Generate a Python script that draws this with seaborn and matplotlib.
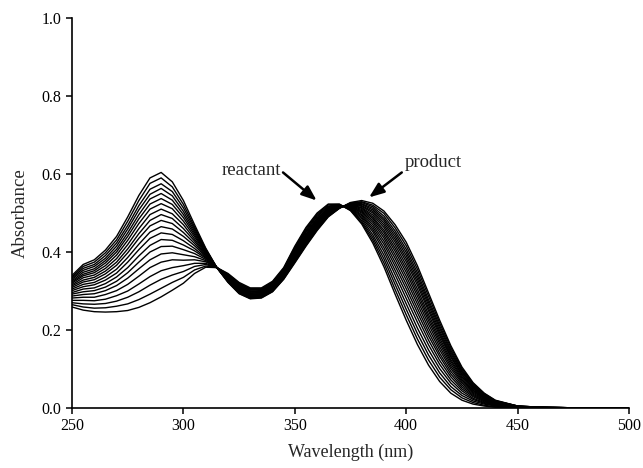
import matplotlib
matplotlib.use("Agg")
import matplotlib.pyplot as plt
import pandas as pd
import seaborn as sns

wavelength = [250, 255, 260, 265, 270, 275, 280, 285, 290, 295, 300, 305, 310, 315,
              320, 325, 330, 335, 340, 345, 350, 355, 360, 365, 370, 375, 380, 385,
              390, 395, 400, 405, 410, 415, 420, 425, 430, 435, 440, 450, 460, 480, 500]

spectrum_01 = [0.259, 0.251, 0.247, 0.246, 0.247, 0.250, 0.258, 0.270, 0.285, 0.302, 0.320, 0.345, 0.361, 0.360,
               0.345, 0.322, 0.308, 0.308, 0.325, 0.360, 0.415, 0.463, 0.500, 0.523, 0.523, 0.506, 0.472, 0.423,
               0.362, 0.292, 0.225, 0.163, 0.110, 0.068, 0.038, 0.020, 0.010, 0.005, 0.002, 0.001, 0.000, 0.000, 0.000]
spectrum_02 = [0.265, 0.259, 0.256, 0.257, 0.261, 0.267, 0.278, 0.292, 0.307, 0.322, 0.335, 0.354, 0.364, 0.360,
               0.343, 0.320, 0.306, 0.306, 0.323, 0.358, 0.412, 0.460, 0.497, 0.521, 0.522, 0.507, 0.476, 0.430,
               0.372, 0.304, 0.239, 0.177, 0.123, 0.079, 0.047, 0.026, 0.014, 0.007, 0.003, 0.001, 0.000, 0.000, 0.000]
spectrum_03 = [0.270, 0.267, 0.266, 0.268, 0.274, 0.284, 0.298, 0.315, 0.330, 0.341, 0.350, 0.363, 0.368, 0.360,
               0.342, 0.318, 0.304, 0.304, 0.321, 0.356, 0.409, 0.456, 0.494, 0.518, 0.521, 0.509, 0.480, 0.437,
               0.382, 0.317, 0.253, 0.191, 0.136, 0.090, 0.055, 0.032, 0.018, 0.010, 0.005, 0.002, 0.000, 0.000, 0.000]
spectrum_04 = [0.276, 0.276, 0.275, 0.279, 0.288, 0.300, 0.318, 0.337, 0.352, 0.360, 0.365, 0.371, 0.371, 0.360,
               0.340, 0.316, 0.302, 0.303, 0.319, 0.354, 0.406, 0.453, 0.491, 0.516, 0.521, 0.510, 0.485, 0.444,
               0.392, 0.329, 0.267, 0.205, 0.149, 0.101, 0.064, 0.038, 0.022, 0.012, 0.006, 0.002, 0.000, 0.000, 0.000]
spectrum_05 = [0.282, 0.284, 0.284, 0.291, 0.301, 0.317, 0.338, 0.360, 0.374, 0.380, 0.379, 0.380, 0.375, 0.360,
               0.339, 0.314, 0.300, 0.301, 0.317, 0.352, 0.403, 0.450, 0.487, 0.514, 0.520, 0.512, 0.489, 0.452,
               0.402, 0.342, 0.281, 0.220, 0.162, 0.112, 0.072, 0.044, 0.025, 0.014, 0.007, 0.002, 0.001, 0.000, 0.000]
spectrum_06 = [0.287, 0.291, 0.293, 0.301, 0.314, 0.333, 0.357, 0.380, 0.395, 0.398, 0.393, 0.388, 0.378, 0.360,
               0.337, 0.312, 0.298, 0.299, 0.316, 0.350, 0.400, 0.446, 0.485, 0.512, 0.519, 0.513, 0.493, 0.458,
               0.411, 0.353, 0.294, 0.233, 0.174, 0.122, 0.080, 0.049, 0.029, 0.016, 0.008, 0.002, 0.001, 0.000, 0.000]
spectrum_07 = [0.292, 0.298, 0.301, 0.310, 0.325, 0.347, 0.374, 0.400, 0.414, 0.415, 0.406, 0.396, 0.381, 0.360,
               0.336, 0.310, 0.297, 0.298, 0.314, 0.348, 0.398, 0.444, 0.482, 0.510, 0.519, 0.515, 0.496, 0.464,
               0.420, 0.364, 0.306, 0.245, 0.185, 0.132, 0.087, 0.054, 0.032, 0.018, 0.009, 0.003, 0.001, 0.000, 0.000]
spectrum_08 = [0.296, 0.305, 0.308, 0.319, 0.336, 0.360, 0.390, 0.417, 0.432, 0.430, 0.418, 0.403, 0.384, 0.360,
               0.334, 0.309, 0.295, 0.296, 0.313, 0.346, 0.395, 0.441, 0.479, 0.508, 0.518, 0.516, 0.500, 0.470,
               0.428, 0.374, 0.317, 0.256, 0.195, 0.140, 0.094, 0.059, 0.035, 0.020, 0.010, 0.003, 0.001, 0.000, 0.000]
spectrum_09 = [0.301, 0.311, 0.316, 0.328, 0.346, 0.374, 0.406, 0.435, 0.449, 0.445, 0.429, 0.409, 0.386, 0.360,
               0.333, 0.307, 0.294, 0.295, 0.311, 0.345, 0.393, 0.438, 0.477, 0.506, 0.517, 0.517, 0.503, 0.476,
               0.436, 0.384, 0.328, 0.267, 0.205, 0.149, 0.101, 0.064, 0.038, 0.022, 0.011, 0.003, 0.001, 0.000, 0.000]
spectrum_10 = [0.305, 0.317, 0.322, 0.336, 0.356, 0.386, 0.420, 0.451, 0.465, 0.459, 0.440, 0.416, 0.389, 0.360,
               0.332, 0.306, 0.292, 0.293, 0.310, 0.343, 0.391, 0.436, 0.475, 0.504, 0.517, 0.518, 0.506, 0.481,
               0.443, 0.393, 0.338, 0.277, 0.215, 0.157, 0.107, 0.068, 0.041, 0.024, 0.012, 0.003, 0.001, 0.000, 0.000]
spectrum_11 = [0.309, 0.323, 0.329, 0.344, 0.366, 0.398, 0.435, 0.467, 0.481, 0.473, 0.450, 0.422, 0.391, 0.360,
               0.331, 0.304, 0.291, 0.292, 0.308, 0.342, 0.389, 0.434, 0.472, 0.503, 0.516, 0.519, 0.509, 0.486,
               0.450, 0.402, 0.348, 0.287, 0.224, 0.165, 0.113, 0.072, 0.044, 0.025, 0.013, 0.004, 0.001, 0.000, 0.000]
spectrum_12 = [0.313, 0.328, 0.335, 0.351, 0.374, 0.408, 0.447, 0.481, 0.496, 0.486, 0.460, 0.428, 0.393, 0.360,
               0.330, 0.303, 0.290, 0.291, 0.307, 0.340, 0.387, 0.431, 0.470, 0.501, 0.516, 0.520, 0.512, 0.490,
               0.456, 0.410, 0.357, 0.296, 0.232, 0.172, 0.119, 0.076, 0.046, 0.027, 0.014, 0.004, 0.001, 0.000, 0.000]
spectrum_13 = [0.316, 0.334, 0.341, 0.358, 0.383, 0.419, 0.460, 0.496, 0.510, 0.498, 0.470, 0.433, 0.396, 0.360,
               0.329, 0.302, 0.288, 0.290, 0.306, 0.339, 0.385, 0.429, 0.468, 0.500, 0.515, 0.521, 0.514, 0.495,
               0.463, 0.418, 0.366, 0.305, 0.240, 0.179, 0.124, 0.080, 0.049, 0.028, 0.015, 0.004, 0.001, 0.000, 0.000]
spectrum_14 = [0.320, 0.339, 0.347, 0.365, 0.392, 0.430, 0.473, 0.510, 0.524, 0.511, 0.479, 0.439, 0.398, 0.360,
               0.328, 0.300, 0.287, 0.289, 0.305, 0.338, 0.383, 0.427, 0.466, 0.498, 0.515, 0.522, 0.517, 0.500,
               0.469, 0.426, 0.375, 0.315, 0.249, 0.186, 0.130, 0.084, 0.051, 0.030, 0.016, 0.004, 0.002, 0.000, 0.000]
spectrum_15 = [0.323, 0.343, 0.352, 0.372, 0.400, 0.440, 0.485, 0.523, 0.537, 0.522, 0.488, 0.444, 0.400, 0.360,
               0.327, 0.299, 0.286, 0.288, 0.304, 0.336, 0.381, 0.425, 0.464, 0.497, 0.514, 0.523, 0.519, 0.504,
               0.475, 0.433, 0.383, 0.323, 0.256, 0.192, 0.134, 0.087, 0.053, 0.031, 0.016, 0.004, 0.002, 0.000, 0.000]
spectrum_16 = [0.326, 0.348, 0.357, 0.378, 0.407, 0.449, 0.496, 0.536, 0.550, 0.533, 0.496, 0.449, 0.402, 0.360,
               0.326, 0.298, 0.285, 0.286, 0.303, 0.335, 0.379, 0.423, 0.463, 0.496, 0.514, 0.523, 0.522, 0.508,
               0.481, 0.440, 0.391, 0.331, 0.264, 0.198, 0.139, 0.091, 0.056, 0.032, 0.017, 0.004, 0.002, 0.000, 0.000]
spectrum_17 = [0.330, 0.353, 0.363, 0.384, 0.415, 0.459, 0.508, 0.548, 0.563, 0.544, 0.504, 0.454, 0.404, 0.360,
               0.325, 0.297, 0.284, 0.285, 0.302, 0.334, 0.378, 0.421, 0.461, 0.494, 0.513, 0.524, 0.524, 0.512,
               0.486, 0.447, 0.399, 0.339, 0.271, 0.205, 0.144, 0.094, 0.058, 0.034, 0.018, 0.005, 0.002, 0.000, 0.000]
spectrum_18 = [0.333, 0.358, 0.368, 0.391, 0.423, 0.468, 0.519, 0.561, 0.575, 0.555, 0.513, 0.459, 0.406, 0.360,
               0.324, 0.296, 0.283, 0.284, 0.300, 0.333, 0.376, 0.419, 0.459, 0.493, 0.513, 0.525, 0.527, 0.516,
               0.492, 0.454, 0.407, 0.347, 0.278, 0.211, 0.149, 0.097, 0.060, 0.035, 0.018, 0.005, 0.002, 0.000, 0.000]
spectrum_19 = [0.336, 0.363, 0.374, 0.398, 0.431, 0.479, 0.532, 0.576, 0.590, 0.567, 0.522, 0.464, 0.408, 0.360,
               0.323, 0.294, 0.281, 0.283, 0.299, 0.331, 0.374, 0.417, 0.457, 0.491, 0.512, 0.526, 0.529, 0.520,
               0.499, 0.462, 0.416, 0.356, 0.287, 0.218, 0.155, 0.101, 0.063, 0.037, 0.019, 0.005, 0.002, 0.000, 0.000]
spectrum_20 = [0.340, 0.368, 0.380, 0.405, 0.440, 0.490, 0.545, 0.590, 0.604, 0.580, 0.532, 0.470, 0.410, 0.360,
               0.322, 0.293, 0.280, 0.282, 0.298, 0.330, 0.372, 0.415, 0.455, 0.490, 0.512, 0.527, 0.532, 0.525,
               0.505, 0.470, 0.425, 0.365, 0.295, 0.225, 0.160, 0.105, 0.065, 0.038, 0.020, 0.005, 0.002, 0.000, 0.000]

spectra = [spectrum_01, spectrum_02, spectrum_03, spectrum_04, spectrum_05,
           spectrum_06, spectrum_07, spectrum_08, spectrum_09, spectrum_10,
           spectrum_11, spectrum_12, spectrum_13, spectrum_14, spectrum_15,
           spectrum_16, spectrum_17, spectrum_18, spectrum_19, spectrum_20]

x_ticks = [250, 300, 350, 400, 450, 500]
y_ticks = [0.0, 0.2, 0.4, 0.6, 0.8, 1.0]
y_tick_labels = ["0.0", "0.2", "0.4", "0.6", "0.8", "1.0"]

sns.set_style("ticks")
plt.rcParams["font.family"] = ["Liberation Serif", "DejaVu Serif"]

rows = []
for i, s in enumerate(spectra):
    if len(s) != len(wavelength):
        raise ValueError(f"spectrum {i + 1} has {len(s)} values")
    for w, a in zip(wavelength, s):
        rows.append((i, w, a))
df = pd.DataFrame(rows, columns=["scan", "wavelength", "absorbance"])

fig = plt.figure(figsize=(6.43, 4.68), dpi=100)
ax = fig.add_axes([0.112, 0.1282, 0.8663, 0.8333])
sns.lineplot(data=df, x="wavelength", y="absorbance", units="scan", estimator=None,
             color="black", lw=1.0, legend=False, ax=ax)

ax.set_xlim(250, 500)
ax.set_ylim(0, 1.0)
ax.set_xticks(x_ticks)
ax.set_yticks(y_ticks)
ax.set_yticklabels(y_tick_labels)
ax.tick_params(direction="out", length=4, width=1.1, labelsize=11.5, colors="black")
sns.despine(ax=ax)
for side in ("left", "bottom"):
    ax.spines[side].set_linewidth(1.2)
    ax.spines[side].set_color("black")

ax.set_xlabel("Wavelength (nm)", fontsize=13, labelpad=7)
ax.set_ylabel("Absorbance", fontsize=13.5, labelpad=9)

ax.text(317.2, 0.609, "reactant", fontsize=13.5, ha="left", va="center")
ax.text(399.5, 0.629, "product", fontsize=13.5, ha="left", va="center")
arrow = dict(arrowstyle="-|>,head_length=0.9,head_width=0.35", lw=1.8, color="black",
             shrinkA=0, shrinkB=0)
ax.annotate("", xy=(359.8, 0.532), xytext=(344.7, 0.604), arrowprops=arrow)
ax.annotate("", xy=(383.3, 0.540), xytext=(398.0, 0.604), arrowprops=arrow)

fig.savefig("out.png", dpi=100)
